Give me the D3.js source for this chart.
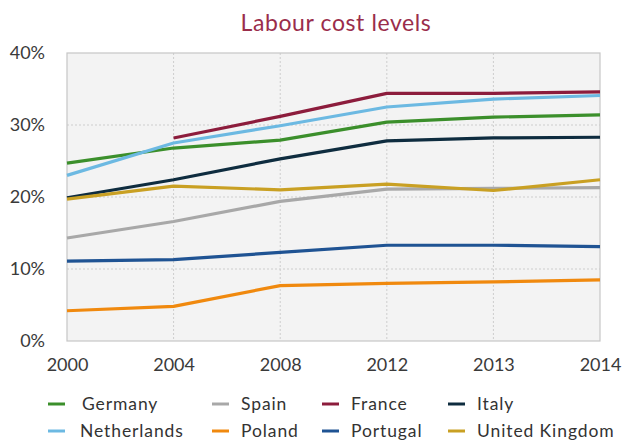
<!DOCTYPE html>
<html>
<head>
<meta charset="utf-8">
<script src="https://cdn.jsdelivr.net/npm/d3@7"></script>
<style>
body { margin: 0; background: #fff; }
svg text { font-family: Lato, "Open Sans", sans-serif; }
</style>
</head>
<body>
<script>
const WIDTH = 623;
const HEIGHT = 441;
const LEFT = 67, RIGHT = 600, TOP = 53, BOTTOM = 341;

var years = ['2000', '2004', '2008', '2012', '2013', '2014'];
var yTicks = [0, 0.1, 0.2, 0.3, 0.4];

var countries = ['Germany', 'Spain', 'France', 'Italy', 'Netherlands', 'Poland', 'Portugal', 'United Kingdom'];
var colors = ['#3b8f2b', '#a8a8a8', '#8c1c3c', '#0e2c3f', '#6cb9e2', '#f0890e', '#1f5393', '#c9a023'];

var germany     = [0.247, 0.268, 0.279, 0.304, 0.311, 0.314];
var spain       = [0.143, 0.166, 0.194, 0.211, 0.212, 0.213];
var france      = [null, 0.282, 0.312, 0.344, 0.344, 0.346];
var italy       = [0.199, 0.224, 0.253, 0.278, 0.282, 0.283];
var netherlands = [0.230, 0.275, 0.299, 0.325, 0.336, 0.341];
var poland      = [0.042, 0.048, 0.077, 0.080, 0.082, 0.085];
var portugal    = [0.111, 0.113, 0.123, 0.133, 0.133, 0.131];
var uk          = [0.197, 0.215, 0.210, 0.218, 0.209, 0.224];

var seriesValues = [germany, spain, france, italy, netherlands, poland, portugal, uk];

var svg = d3.select('body').append('svg')
	.attr('width', WIDTH)
	.attr('height', HEIGHT);

var x = d3.scalePoint().domain(years).range([LEFT, RIGHT]);
var y = d3.scaleLinear().domain([0, 0.4]).range([BOTTOM, TOP]);

// title
svg.append('text')
	.attr('x', 336)
	.attr('y', 31)
	.attr('text-anchor', 'middle')
	.style('font-size', '23px')
	.style('letter-spacing', '0.6px')
	.style('fill', '#9a2d4b')
	.text('Labour cost levels');

// plot background
svg.append('rect')
	.attr('x', LEFT).attr('y', TOP)
	.attr('width', RIGHT - LEFT).attr('height', BOTTOM - TOP)
	.style('fill', '#f3f3f3');

// grid
svg.append('g').selectAll('line')
	.data(yTicks.slice(1, -1))
	.enter().append('line')
	.attr('x1', LEFT).attr('x2', RIGHT)
	.attr('y1', function(d){ return y(d); })
	.attr('y2', function(d){ return y(d); })
	.style('stroke', '#cdcdcd')
	.style('stroke-dasharray', '2,2');

svg.append('g').selectAll('line')
	.data(years.slice(1, -1))
	.enter().append('line')
	.attr('y1', TOP).attr('y2', BOTTOM)
	.attr('x1', function(d){ return x(d); })
	.attr('x2', function(d){ return x(d); })
	.style('stroke', '#cdcdcd')
	.style('stroke-dasharray', '2,2');

svg.append('rect')
	.attr('x', LEFT).attr('y', TOP)
	.attr('width', RIGHT - LEFT).attr('height', BOTTOM - TOP)
	.style('fill', 'none')
	.style('stroke', '#c6c6c6')
	.style('stroke-width', 1.2);

// axes
var yAxis = d3.axisLeft(y).tickValues(yTicks).tickFormat(d3.format('.0%')).tickSize(0).tickPadding(22);
svg.append('g')
	.attr('transform', 'translate(' + LEFT + ',0)')
	.call(yAxis)
	.call(function(g){ g.select('.domain').remove(); })
	.selectAll('text')
	.style('font-size', '18px')
	.style('fill', '#3a3a3a')
	.style('font-family', 'Lato, sans-serif');

var xAxis = d3.axisBottom(x).tickSize(0).tickPadding(17);
svg.append('g')
	.attr('transform', 'translate(0,' + BOTTOM + ')')
	.call(xAxis)
	.call(function(g){ g.select('.domain').remove(); })
	.selectAll('text')
	.style('font-size', '18px')
	.style('fill', '#3a3a3a')
	.style('font-family', 'Lato, sans-serif');

// lines
var line = d3.line()
	.defined(function(d){ return d != null; })
	.x(function(d, i){ return x(years[i]); })
	.y(function(d){ return y(d); });

svg.append('g').selectAll('path')
	.data(seriesValues)
	.enter().append('path')
	.attr('d', line)
	.style('fill', 'none')
	.style('stroke', function(d, i){ return colors[i]; })
	.style('stroke-width', 3.2)
	.style('stroke-linejoin', 'round');

// legend
var colX = [48, 212, 322, 448];
var rowY = [404, 431];
var legend = svg.append('g').selectAll('g')
	.data(countries)
	.enter().append('g')
	.attr('transform', function(d, i){
		return 'translate(' + colX[i % 4] + ',' + rowY[Math.floor(i / 4)] + ')';
	});

legend.append('line')
	.attr('x1', 0).attr('x2', 17)
	.style('stroke', function(d, i){ return colors[i]; })
	.style('stroke-width', 3);

legend.append('text')
	.attr('x', function(d, i){ return i == 0 ? 34 : (i % 4 == 0 ? 32 : 29); })
	.attr('y', 6)
	.style('font-size', '17.5px')
	.style('letter-spacing', '0.9px')
	.style('fill', '#333')
	.text(function(d){ return d; });
</script>
</body>
</html>
